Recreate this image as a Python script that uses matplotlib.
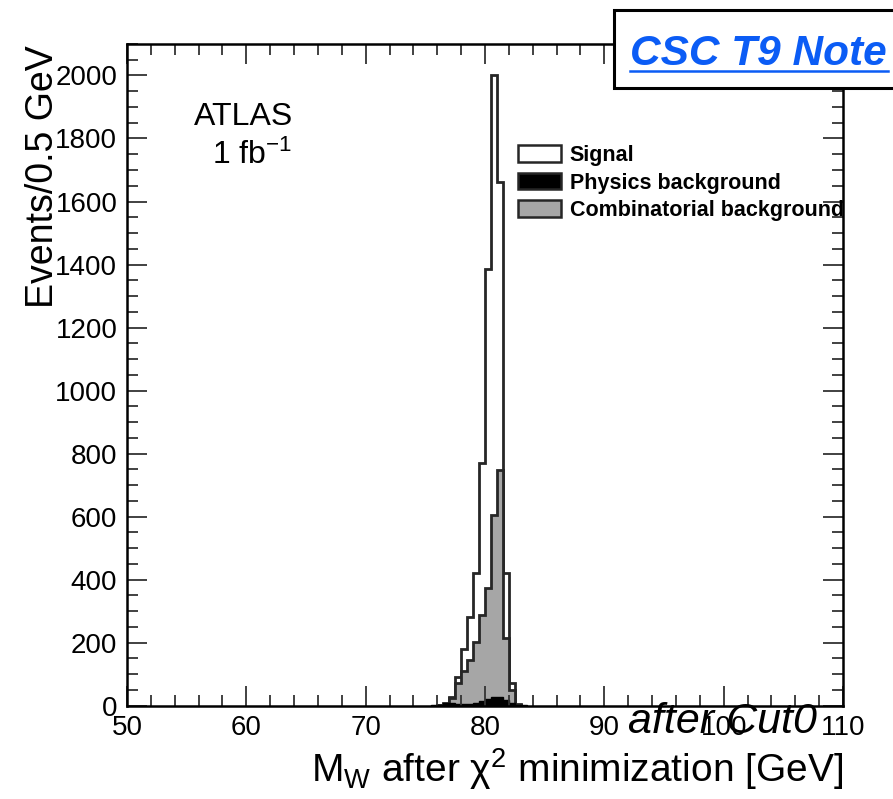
import numpy as np
import matplotlib
matplotlib.use("Agg")
import matplotlib.pyplot as plt
from matplotlib.patches import Patch, Rectangle
from matplotlib.lines import Line2D
from matplotlib.ticker import MultipleLocator

plt.rcParams['font.family'] = ['Liberation Sans', 'DejaVu Sans']
plt.rcParams['mathtext.fontset'] = 'custom'
plt.rcParams['mathtext.rm'] = 'Liberation Sans'
plt.rcParams['mathtext.it'] = 'Liberation Sans:italic'

# low edges of the 0.5 GeV bins that are filled (everything else is empty)
bin_low = [75.5, 76.0, 76.5, 77.0, 77.5, 78.0, 78.5, 79.0, 79.5, 80.0,
           80.5, 81.0, 81.5, 82.0, 82.5, 83.0]
signal = [0, 3, 10, 29, 90, 179, 283, 420, 770, 1386,
          2000, 1663, 420, 71, 5, 0]
combinatorial = [0, 1, 5, 25, 71, 110, 145, 203, 288, 373,
                 605, 748, 214, 50, 3, 0]
physics = [1, 3, 7, 8, 6, 5, 6, 10, 15, 21,
           27, 26, 19, 10, 3, 1]

edges = np.append(bin_low, bin_low[-1] + 0.5)

fig = plt.figure(figsize=(8.93, 7.99), dpi=100)
ax = fig.add_axes([0.1422, 0.1168, 0.8018, 0.8282])

lc = '#262626'
ax.stairs(signal, edges, fill=True, facecolor='white', edgecolor=lc, lw=2.0)
ax.stairs(combinatorial, edges, fill=True, facecolor='#a6a6a6', edgecolor=lc, lw=2.0)
ax.stairs(physics, edges, fill=True, facecolor='black', edgecolor='black', lw=1.0)

ax.set_xlim(50, 110)
ax.set_ylim(0, 2100)
ax.set_xticks(np.arange(50, 111, 10))
ax.set_yticks(np.arange(0, 2001, 200))
ax.xaxis.set_minor_locator(MultipleLocator(2))
ax.yaxis.set_minor_locator(MultipleLocator(50))
ax.tick_params(which='both', direction='in', top=True, right=True,
               labelsize=20, width=1.3, color='#333333')
ax.tick_params(which='major', length=14.5, pad=7)
ax.tick_params(which='minor', length=8)
for s in ax.spines.values():
    s.set_linewidth(1.8)

# legend
handles = [Patch(facecolor='white', edgecolor=lc, lw=1.8),
           Patch(facecolor='black', edgecolor=lc, lw=1.8),
           Patch(facecolor='#a6a6a6', edgecolor=lc, lw=1.8)]
labels = ['Signal', 'Physics background', 'Combinatorial background']
ax.legend(handles, labels, loc='upper left', bbox_to_anchor=(0.546, 0.847),
          frameon=False, prop={'weight': 'bold', 'size': 15.5},
          handlelength=2.0, handleheight=0.8, labelspacing=0.3,
          handletextpad=0.4, borderaxespad=0, borderpad=0)

# ATLAS label
fig.text(244 / 893, 1 - 125 / 799, 'ATLAS', ha='center', va='baseline', fontsize=23)
fig.text(252 / 893, 1 - 164 / 799, '1 fb$^{-1}$', ha='center', va='baseline', fontsize=23)

# axis titles (ROOT style, aligned to the end of the axis)
fig.text(43 / 893, 1 - 45 / 799, 'Events/0.5 GeV', rotation=90,
         ha='center', va='top', fontsize=27)
fig.text(843 / 893, 1 - 782 / 799, 'M$_\\mathrm{W}$ after χ$^\\mathrm{2}$ minimization [GeV]',
         ha='right', va='baseline', fontsize=28)

fig.text(628 / 893, 1 - 733 / 799, 'after Cut0', style='italic',
         ha='left', va='baseline', fontsize=31)

# note box in the top right corner
fig.add_artist(Rectangle((614 / 893, 1 - 88 / 799), 0.4, 78 / 799,
                         transform=fig.transFigure, facecolor='white',
                         edgecolor='black', lw=2.2, zorder=5))
fig.text(630 / 893, 1 - 65 / 799, 'CSC T9 Note', color='#0b5cf5',
         fontsize=30.5, weight='bold', style='italic', ha='left',
         va='baseline', zorder=6)
fig.add_artist(Line2D([630 / 893, 888 / 893], [1 - 71 / 799, 1 - 71 / 799],
                      transform=fig.transFigure, color='#0b5cf5', lw=1.8, zorder=6))

fig.savefig('out.png', dpi=100)
